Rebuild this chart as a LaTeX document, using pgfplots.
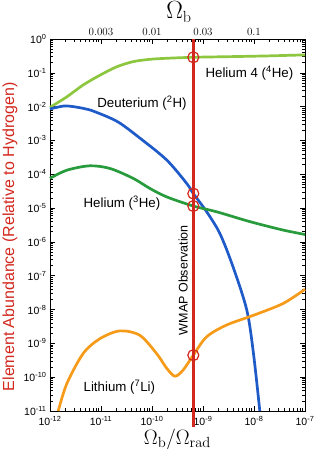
\documentclass[border=0pt]{standalone}
\usepackage{fontspec}
\setsansfont{Liberation Sans}
\usepackage{pgfplots}
\pgfplotsset{compat=1.18}
\definecolor{hefour}{RGB}{141,198,63}
\definecolor{deut}{RGB}{30,90,200}
\definecolor{hethree}{RGB}{40,155,60}
\definecolor{lith}{RGB}{245,155,25}
\definecolor{obsred}{RGB}{210,40,30}
\begin{document}
\begin{tikzpicture}
\begin{axis}[
  name=main,
  scale only axis,
  width=255pt, height=372pt,
  xmode=log, ymode=log,
  xmin=1e-12, xmax=1e-7,
  ymin=1e-11, ymax=1,
  xtickten={-12,...,-7},
  ytickten={-11,...,0},
  xtick pos=both, ytick pos=both,
  xticklabel pos=left, yticklabel pos=left,
  tick align=inside,
  major tick length=5pt, minor tick length=2.8pt,
  every tick/.style={black, line width=0.5pt},
  axis line style={line width=0.8pt},
  log number format basis/.code 2 args={#1\textsuperscript{\pgfmathprintnumber[assume math mode=true]{#2}}},
  tick label style={font=\sffamily\fontsize{10.5}{12}\selectfont},
  xticklabel style={yshift=-1.5pt},
  ylabel={Element Abundance (Relative to Hydrogen)},
  every axis y label/.style={at={(axis description cs:-0.157,0.468)},rotate=90,anchor=center,
    font=\sffamily\fontsize{16}{19}\selectfont, text=obsred},
  clip=false,
]
% Helium 4
\addplot[hefour, line width=2.7pt, smooth, tension=0.5] coordinates {
 (1e-12,0.00955) (2.14e-12,0.0195) (4.47e-12,0.0437) (9.55e-12,0.0851)
 (2.04e-11,0.151) (4.27e-11,0.214) (9.12e-11,0.251) (1.95e-10,0.269)
 (6.46e-10,0.288) (3.89e-9,0.302) (1.78e-8,0.316) (1e-7,0.339)};
% Deuterium
\addplot[deut, line width=2.7pt, smooth, tension=0.5] coordinates {
 (1e-12,0.00851) (2.0e-12,0.0105) (4.47e-12,0.00891) (7.59e-12,0.00708)
 (2.14e-11,0.00355) (6.03e-11,0.00112) (1.95e-10,2.63e-4) (4.79e-10,5.37e-5)
 (6.46e-10,2.69e-5) (1.17e-9,7.94e-6) (2.14e-9,1.78e-6) (3.89e-9,1.82e-7)
 (7.24e-9,9.55e-9) (9.77e-9,5.01e-10) (1.3e-8,1e-11)};
% Helium 3
\addplot[hethree, line width=2.7pt, smooth, tension=0.5] coordinates {
 (1e-12,7.59e-5) (2.14e-12,1.32e-4) (6.03e-12,1.78e-4) (1.51e-11,1.48e-4)
 (4.27e-11,7.59e-5) (9.12e-11,3.80e-5) (1.95e-10,2.14e-5) (6.46e-10,1.15e-5)
 (1.86e-9,7.76e-6) (8.32e-9,3.98e-6) (3.72e-8,2.24e-6) (1e-7,1.66e-6)};
% Lithium 7
\addplot[lith, line width=2.7pt, smooth, tension=0.5] coordinates {
 (1.45e-12,1e-11) (2.14e-12,6.46e-11) (4.47e-12,5.01e-10) (9.55e-12,1.38e-9)
 (2.34e-11,2.34e-9) (5.75e-11,1.74e-9) (1.23e-10,5.01e-10) (1.95e-10,1.82e-10)
 (2.82e-10,1.07e-10) (4.07e-10,1.62e-10) (6.46e-10,4.47e-10) (1.17e-9,1.55e-9)
 (2.88e-9,3.47e-9) (9.77e-9,6.76e-9) (3.72e-8,1.51e-8) (1e-7,3.98e-8)};
% WMAP observation line
\addplot[obsred, line width=2.7pt] coordinates {(6.46e-10,1) (6.46e-10,3.3e-12)};
\addplot[obsred, only marks, mark=o, mark size=5.5pt, mark options={line width=1.2pt}] coordinates {
 (6.46e-10,0.288) (6.46e-10,2.69e-5) (6.46e-10,1.15e-5) (6.46e-10,4.47e-10)};
% labels
\node[anchor=west, font=\sffamily\fontsize{13.3}{15}\selectfont] at (axis cs:9.55e-10,0.1) {Helium 4 (\textsuperscript{4}He)};
\node[anchor=west, font=\sffamily\fontsize{13.3}{15}\selectfont] at (axis cs:7.24e-12,0.0128) {Deuterium (\textsuperscript{2}H)};
\node[anchor=west, font=\sffamily\fontsize{13.3}{15}\selectfont] at (axis cs:3.89e-12,1.41e-5) {Helium (\textsuperscript{3}He)};
\node[anchor=west, font=\sffamily\fontsize{13.3}{15}\selectfont] at (axis cs:3.89e-12,5.0e-11) {Lithium (\textsuperscript{7}Li)};
\node[rotate=90, anchor=center, font=\sffamily\fontsize{12.5}{15}\selectfont] at (axis cs:4.07e-10,7.4e-8) {WMAP Observation};
\node[anchor=base] at (axis description cs:0.506,1.054) {\fontsize{23}{27}\selectfont $\Omega_{\mathrm{b}}$};
\node[anchor=base] at (axis description cs:0.5,-0.0887) {\fontsize{21}{25}\selectfont $\Omega_{\mathrm{b}}/\Omega_{\mathrm{rad}}$};
\end{axis}
\begin{axis}[
  scale only axis,
  width=255pt, height=372pt,
  at={(main.south west)}, anchor=south west,
  xmode=log, ymode=log,
  xmin=1e-12, xmax=1e-7,
  ymin=1e-11, ymax=1,
  hide y axis,
  axis x line*=top,
  axis line style={draw=none},
  xtick={1e-11,1e-10,1e-9,1e-8},
  xticklabels={0.003,0.01,0.03,0.1},
  xminorticks=false,
  major tick length=0pt,
  xticklabel style={font=\rmfamily\fontsize{11}{13}\selectfont},
]
\end{axis}
\pgfresetboundingbox
\path[use as bounding box] ([shift={(-50pt,-38pt)}]main.south west) rectangle ([shift={(9pt,39pt)}]main.north east);
\end{tikzpicture}
\end{document}
